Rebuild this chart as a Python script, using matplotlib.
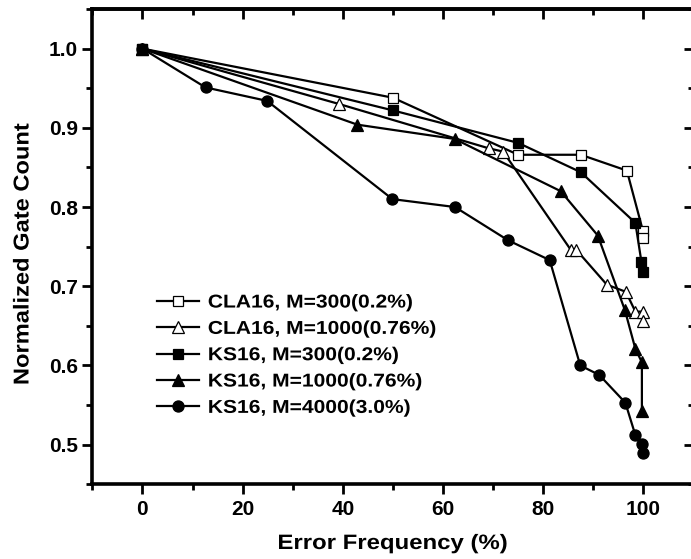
"""Normalized gate count vs error frequency for CLA16 / KS16 adders."""

import matplotlib

matplotlib.use('Agg')
import matplotlib.pyplot as plt
from matplotlib.patheffects import AbstractPathEffect
from matplotlib.ticker import MultipleLocator
from matplotlib.transforms import Affine2D

plt.rcParams['font.family'] = ['Liberation Sans', 'DejaVu Sans']
plt.rcParams['font.weight'] = 'bold'

# ---------------------------------------------------------------------------
# Data
# ---------------------------------------------------------------------------
cla300_x = [0, 50, 75, 87.5, 96.7, 99.9, 99.9]
cla300_y = [1.0, 0.938, 0.866, 0.866, 0.846, 0.770, 0.761]

cla1000_x = [0, 39.3, 69.2, 72.0, 85.5, 86.6, 92.7, 96.5, 98.4, 99.9, 99.9]
cla1000_y = [1.0, 0.930, 0.874, 0.870, 0.746, 0.746, 0.702, 0.693, 0.668, 0.668, 0.656]

ks300_x = [0, 50, 75, 87.5, 98.4, 99.6, 99.9]
ks300_y = [1.0, 0.922, 0.881, 0.844, 0.780, 0.731, 0.718]

ks1000_x = [0, 42.9, 62.3, 83.5, 90.9, 96.3, 98.4, 99.7, 99.7]
ks1000_y = [1.0, 0.904, 0.886, 0.820, 0.764, 0.670, 0.621, 0.604, 0.543]

ks4000_x = [0, 12.6, 24.9, 49.9, 62.4, 73.0, 81.3, 87.4, 91.2, 96.4, 98.4, 99.7, 99.9]
ks4000_y = [1.0, 0.951, 0.934, 0.810, 0.800, 0.758, 0.733, 0.600, 0.588, 0.553, 0.512, 0.501, 0.489]

series = [
    (cla300_x, cla300_y, 's', 'white', 'CLA16, M=300(0.2%)'),
    (cla1000_x, cla1000_y, '^', 'white', 'CLA16, M=1000(0.76%)'),
    (ks300_x, ks300_y, 's', 'black', 'KS16, M=300(0.2%)'),
    (ks1000_x, ks1000_y, '^', 'black', 'KS16, M=1000(0.76%)'),
    (ks4000_x, ks4000_y, 'o', 'black', 'KS16, M=4000(3.0%)'),
]


class Stretch(AbstractPathEffect):
    """Widen text horizontally (the reference font is wider than Arial)."""

    def __init__(self, sx, anchor='center'):
        super().__init__()
        self.sx = sx
        self.anchor = anchor

    def draw_path(self, renderer, gc, tpath, affine, rgbFace=None):
        ext = tpath.get_extents()
        cx = {'left': 0.0, 'center': (ext.x0 + ext.x1) / 2, 'right': ext.x1}[self.anchor]
        stretch = Affine2D().translate(-cx, 0).scale(self.sx, 1).translate(cx, 0)
        renderer.draw_path(gc, tpath, stretch + affine, rgbFace)


# ---------------------------------------------------------------------------
# Plot
# ---------------------------------------------------------------------------
fig = plt.figure(figsize=(6.91, 5.59), dpi=100)
ax = fig.add_axes([92.3 / 691, (559 - 484.3) / 559, (693.5 - 92.3) / 691, (484.3 - 9) / 559])

for xs, ys, marker, face, label in series:
    ms = 8.5 if marker == '^' else (8 if marker == 'o' else 7)
    ax.plot(xs, ys, color='black', linewidth=1.6, marker=marker, markersize=ms,
            markerfacecolor=face, markeredgecolor='black', markeredgewidth=0.9,
            label=label, clip_on=False)

ax.set_xlim(-10, 110)
ax.set_ylim(0.45, 1.05)
ax.xaxis.set_major_locator(MultipleLocator(20))
ax.xaxis.set_minor_locator(MultipleLocator(10))
ax.yaxis.set_major_locator(MultipleLocator(0.1))
ax.yaxis.set_minor_locator(MultipleLocator(0.05))
ax.xaxis.set_major_formatter(lambda v, p: f'{v:.0f}' if 0 <= v <= 100 else '')
ax.yaxis.set_major_formatter(lambda v, p: f'{v:.1f}' if 0.5 <= v <= 1.0 else '')

for sp in ax.spines.values():
    sp.set_linewidth(2.6)
ax.tick_params(which='major', direction='out', length=7, width=2.0, labelsize=15)
ax.tick_params(which='minor', direction='out', length=4, width=2.0)
ax.tick_params(axis='x', which='major', pad=4.6)
ax.tick_params(axis='y', which='major', pad=3.5)

# mirrored ticks pointing inward on top and right
top = ax.secondary_xaxis('top')
top.xaxis.set_major_locator(MultipleLocator(20))
top.xaxis.set_minor_locator(MultipleLocator(10))
top.tick_params(which='major', direction='in', length=7.5, width=2.0, labeltop=False)
top.tick_params(which='minor', direction='in', length=4.3, width=2.0)
top.spines['top'].set_linewidth(2.6)

right = ax.secondary_yaxis('right')
right.yaxis.set_major_locator(MultipleLocator(0.1))
right.yaxis.set_minor_locator(MultipleLocator(0.05))
right.tick_params(which='major', direction='in', length=7.5, width=2.0, labelright=False)
right.tick_params(which='minor', direction='in', length=4.3, width=2.0)

for lbl in ax.get_xticklabels() + ax.get_yticklabels():
    lbl.set_fontweight('bold')

ax.set_xlabel('Error Frequency (%)', fontsize=15, fontweight='bold',
              path_effects=[Stretch(1.15, 'center')])
ax.xaxis.label.set_va('baseline')
ax.xaxis.set_label_coords(0.5, (484.3 - 549) / 475.3)

ax.set_ylabel('Normalized Gate Count', fontsize=15.5, fontweight='bold',
              path_effects=[Stretch(1.1, 'center')])
ax.yaxis.set_label_coords((33.5 - 92.3) / 601.2, 0.4844)

leg = ax.legend(loc='center left', bbox_to_anchor=(0.107, 0.2706), frameon=False,
                borderpad=0, borderaxespad=0, handlelength=2.3, handletextpad=0.45,
                labelspacing=0.5, prop={'size': 13.4, 'weight': 'bold'})
for txt in leg.get_texts():
    txt.set_path_effects([Stretch(1.13, 'left')])

fig.savefig('out.png', dpi=100)
